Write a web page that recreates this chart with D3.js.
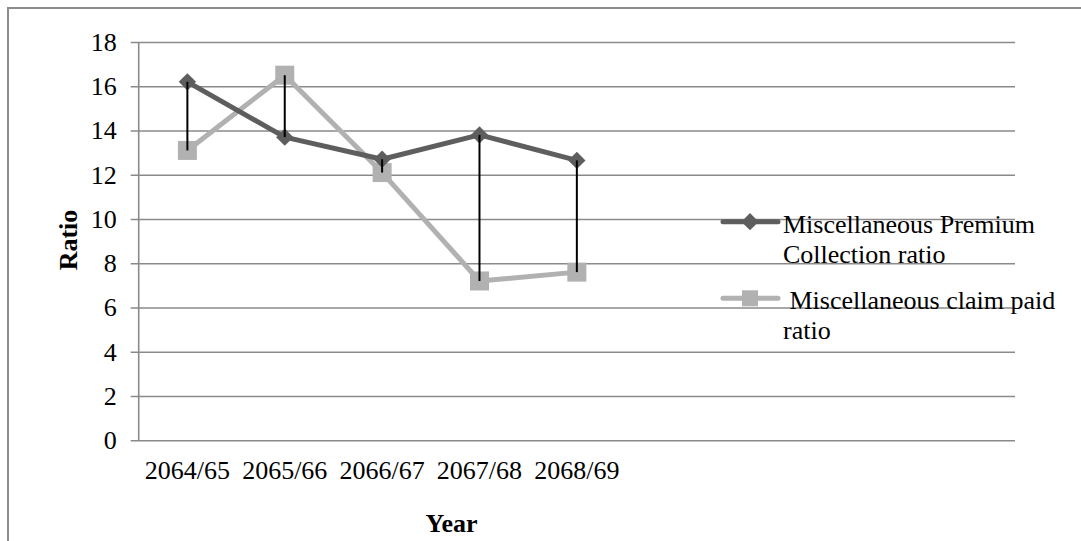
<!DOCTYPE html>
<html>
<head>
<meta charset="utf-8">
<script src="https://cdn.jsdelivr.net/npm/d3@7"></script>
<style>
  body { margin: 0; background: #fff; }
  svg { display: block; font-family: "Liberation Serif", "Times New Roman", serif; }
</style>
</head>
<body>
<svg id="chart" width="1081" height="541"></svg>
<script>
// Chart data
const years = ["2064/65", "2065/66", "2066/67", "2067/68", "2068/69"];
const premiumRatio = [16.2, 13.7, 12.7, 13.8, 12.65];
const claimRatio = [13.1, 16.5, 12.1, 7.2, 7.6];
const yTicks = [0, 2, 4, 6, 8, 10, 12, 14, 16, 18];
const seriesNames = [
  ["Miscellaneous Premium", "Collection ratio"],
  ["\u00a0Miscellaneous claim paid", "ratio"]
];

const svg = d3.select("#chart");
const gridColor = "#8a8a8a";
const darkColor = "#5e5e5e";
const lightColor = "#b1b1b1";

// the category axis has 9 slots, only the first 5 used
const slots = 9;
const plotLeft = 138.7, plotRight = 1015, plotTop = 42, plotBottom = 440.3;

const x = d3.scaleBand().domain(d3.range(slots)).range([plotLeft, plotRight]);
const y = d3.scaleLinear().domain([0, 18]).range([plotBottom, plotTop]);
const cx = i => x(i) + x.bandwidth() / 2;

// Outer border (left and top only visible)
svg.append("path")
  .attr("d", "M8,541 L8,8 L1081,8")
  .attr("fill", "none")
  .attr("stroke", "#8c8c8c")
  .attr("stroke-width", 2);

// Gridlines + y axis
const yAxis = d3.axisLeft(y).tickValues(yTicks).tickSize(plotRight - plotLeft + 8).tickSizeOuter(0).tickPadding(14);
const gy = svg.append("g")
  .attr("transform", `translate(${plotRight},0)`)
  .call(yAxis);
gy.select(".domain").remove();
gy.selectAll(".tick line").attr("stroke", gridColor).attr("stroke-width", 1.6).attr("x1", 0);
gy.selectAll(".tick text")
  .attr("font-size", 26)
  .attr("fill", "#000")
  .attr("font-family", "Liberation Serif, serif")
  .attr("dy", "0.32em");

// vertical axis line
svg.append("line")
  .attr("x1", plotLeft).attr("x2", plotLeft)
  .attr("y1", plotTop).attr("y2", plotBottom)
  .attr("stroke", gridColor)
  .attr("stroke-width", 1.6);

// x tick labels
svg.append("g").selectAll("text")
  .data(years)
  .join("text")
  .attr("x", (d, i) => cx(i))
  .attr("y", 479)
  .attr("text-anchor", "middle")
  .attr("font-size", 26)
  .text(d => d);

// Axis titles
svg.append("text")
  .attr("x", 451.5)
  .attr("y", 531.5)
  .attr("text-anchor", "middle")
  .attr("font-size", 26)
  .attr("font-weight", "bold")
  .text("Year");

svg.append("text")
  .attr("transform", "translate(77,240) rotate(-90)")
  .attr("text-anchor", "middle")
  .attr("font-size", 26)
  .attr("font-weight", "bold")
  .text("Ratio");

// Series lines
const line = d3.line().x((d, i) => cx(i)).y(d => y(d));

svg.append("path")
  .datum(claimRatio)
  .attr("d", line)
  .attr("fill", "none")
  .attr("stroke", lightColor)
  .attr("stroke-width", 5)
  .attr("stroke-linejoin", "round");

svg.append("path")
  .datum(premiumRatio)
  .attr("d", line)
  .attr("fill", "none")
  .attr("stroke", darkColor)
  .attr("stroke-width", 5)
  .attr("stroke-linejoin", "round");

const diamond = d3.symbol().type(d3.symbolSquare).size(150);

// Markers
svg.append("g").selectAll("rect")
  .data(claimRatio)
  .join("rect")
  .attr("x", (d, i) => cx(i) - 9.5)
  .attr("y", d => y(d) - 9.5)
  .attr("width", 19)
  .attr("height", 19)
  .attr("fill", lightColor);

svg.append("g").selectAll("path")
  .data(premiumRatio)
  .join("path")
  .attr("d", diamond)
  .attr("transform", (d, i) => `translate(${cx(i)},${y(d)}) rotate(45)`)
  .attr("fill", darkColor);

// High-low lines
svg.append("g").selectAll("line")
  .data(years)
  .join("line")
  .attr("x1", (d, i) => cx(i))
  .attr("x2", (d, i) => cx(i))
  .attr("y1", (d, i) => y(Math.max(premiumRatio[i], claimRatio[i])))
  .attr("y2", (d, i) => y(Math.min(premiumRatio[i], claimRatio[i])))
  .attr("stroke", "#000")
  .attr("stroke-width", 2);

// Legend
const legendY = [221.7, 298.3];
const legend = svg.append("g");
legendY.forEach((ly, k) => {
  legend.append("line")
    .attr("x1", 723).attr("x2", 778)
    .attr("y1", ly).attr("y2", ly)
    .attr("stroke", k === 0 ? darkColor : lightColor)
    .attr("stroke-width", 5)
    .attr("stroke-linecap", "round");
  if (k === 0) {
    legend.append("path")
      .attr("d", diamond)
      .attr("transform", `translate(750,${ly}) rotate(45)`)
      .attr("fill", darkColor);
  } else {
    legend.append("rect")
      .attr("x", 742).attr("y", ly - 8)
      .attr("width", 16).attr("height", 16)
      .attr("fill", lightColor);
  }
  const t = legend.append("text")
    .attr("x", 783)
    .attr("y", ly + 11)
    .attr("font-size", 26);
  seriesNames[k].forEach((s, j) => {
    t.append("tspan")
      .attr("x", 783)
      .attr("dy", j === 0 ? 0 : 30)
      .text(s);
  });
});
</script>
</body>
</html>
